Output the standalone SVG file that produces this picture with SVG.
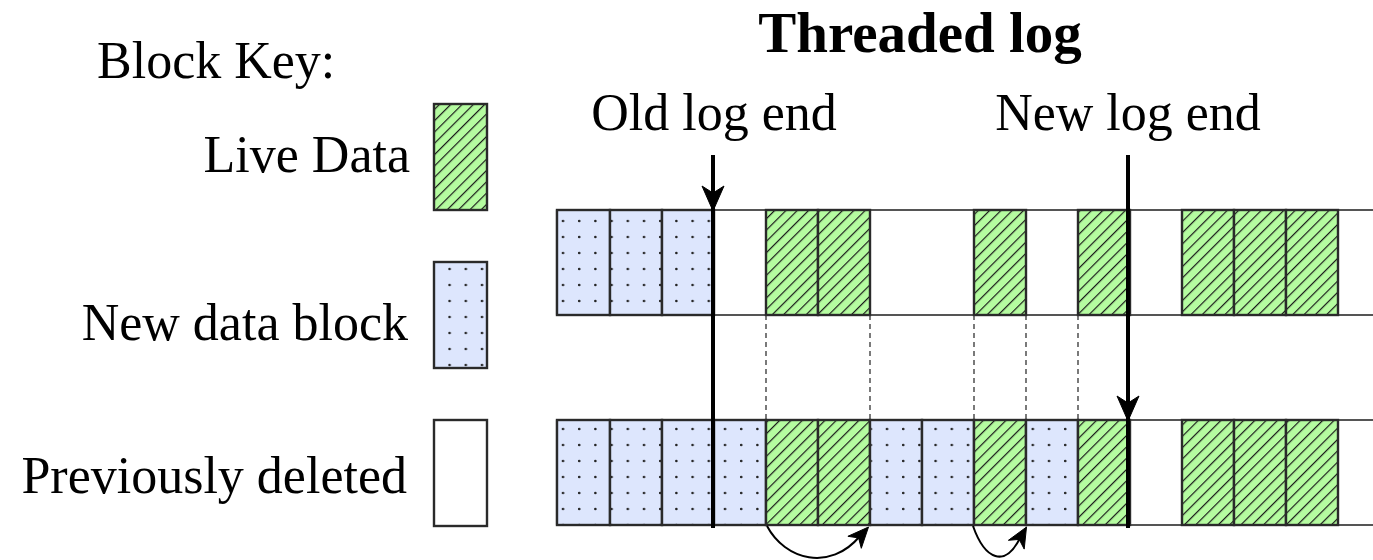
<svg xmlns="http://www.w3.org/2000/svg" width="1373" height="560" viewBox="0 0 1373 560">
<defs>
<pattern id="dots" patternUnits="userSpaceOnUse" x="557" y="213" width="16.2" height="16">
<circle cx="6" cy="8" r="1.3" fill="#222"/>
</pattern>
<pattern id="hatch" patternUnits="userSpaceOnUse" width="8" height="8" patternTransform="rotate(-45)">
<rect x="0" y="0" width="8" height="1.2" fill="#1a1a1a"/>
</pattern>
</defs>
<style>
text{font-family:"Liberation Serif","Times New Roman",serif;fill:#000}
.lbl{font-size:52px}
.title{font-size:57px;font-weight:bold}
.g{fill:#b5fca0}
.b{fill:#dde6fd}
.h{fill:url(#hatch)}
.d{fill:url(#dots)}
.bd{fill:none;stroke:#2a2a2a;stroke-width:2.4}
.rowline{stroke:#555;stroke-width:2.2;fill:none}
.dash{stroke:#333;stroke-width:1.3;stroke-dasharray:5,4;fill:none}
.ptr{stroke:#000;stroke-width:4;fill:none}
.curve{stroke:#000;stroke-width:2;fill:none}
.head{fill:#000;stroke:#000;stroke-width:1;stroke-linejoin:round}
</style>
<rect width="1373" height="560" fill="#fff"/>

<g id="title"><text class="title" x="920" y="52" text-anchor="middle">Threaded log</text></g>

<g id="key">
<text class="lbl" x="97" y="78">Block Key:</text>
<g id="key-live"><text class="lbl" x="410" y="172" text-anchor="end">Live Data</text>
<rect class="g" x="434" y="104" width="53" height="106"/><rect class="h" x="434" y="104" width="53" height="106"/><rect class="bd" x="434" y="104" width="53" height="106"/></g>
<g id="key-new"><text class="lbl" x="408" y="340" text-anchor="end">New data block</text>
<rect class="b" x="434" y="262" width="53" height="106"/><rect class="d" x="434" y="262" width="53" height="106"/><rect class="bd" x="434" y="262" width="53" height="106"/></g>
<g id="key-deleted"><text class="lbl" x="407" y="493" text-anchor="end">Previously deleted</text>
<rect class="bd" x="434" y="420" width="53" height="106" style="fill:#fff"/></g>
</g>

<g id="top-row">
<path class="rowline" d="M557,210 H1373 M557,315 H1373 M557,210 V315"/>
<g id="t1"><rect class="b" x="557" y="210" width="53" height="105"/><rect class="d" x="557" y="210" width="53" height="105"/><rect class="bd" x="557" y="210" width="53" height="105"/></g>
<g id="t2"><rect class="b" x="610" y="210" width="52" height="105"/><rect class="d" x="610" y="210" width="52" height="105"/><rect class="bd" x="610" y="210" width="52" height="105"/></g>
<g id="t3"><rect class="b" x="662" y="210" width="52" height="105"/><rect class="d" x="662" y="210" width="52" height="105"/><rect class="bd" x="662" y="210" width="52" height="105"/></g>
<g id="t5"><rect class="g" x="766" y="210" width="52" height="105"/><rect class="h" x="766" y="210" width="52" height="105"/><rect class="bd" x="766" y="210" width="52" height="105"/></g>
<g id="t6"><rect class="g" x="818" y="210" width="52" height="105"/><rect class="h" x="818" y="210" width="52" height="105"/><rect class="bd" x="818" y="210" width="52" height="105"/></g>
<g id="t9"><rect class="g" x="974" y="210" width="52" height="105"/><rect class="h" x="974" y="210" width="52" height="105"/><rect class="bd" x="974" y="210" width="52" height="105"/></g>
<g id="t11"><rect class="g" x="1078" y="210" width="52" height="105"/><rect class="h" x="1078" y="210" width="52" height="105"/><rect class="bd" x="1078" y="210" width="52" height="105"/></g>
<g id="t13"><rect class="g" x="1182" y="210" width="52" height="105"/><rect class="h" x="1182" y="210" width="52" height="105"/><rect class="bd" x="1182" y="210" width="52" height="105"/></g>
<g id="t14"><rect class="g" x="1234" y="210" width="52" height="105"/><rect class="h" x="1234" y="210" width="52" height="105"/><rect class="bd" x="1234" y="210" width="52" height="105"/></g>
<g id="t15"><rect class="g" x="1286" y="210" width="52" height="105"/><rect class="h" x="1286" y="210" width="52" height="105"/><rect class="bd" x="1286" y="210" width="52" height="105"/></g>
</g>

<g id="bottom-row">
<path class="rowline" d="M557,420 H1373 M557,525 H1373 M557,420 V525"/>
<g id="b1"><rect class="b" x="557" y="420" width="53" height="105"/><rect class="d" x="557" y="420" width="53" height="105"/><rect class="bd" x="557" y="420" width="53" height="105"/></g>
<g id="b2"><rect class="b" x="610" y="420" width="52" height="105"/><rect class="d" x="610" y="420" width="52" height="105"/><rect class="bd" x="610" y="420" width="52" height="105"/></g>
<g id="b3"><rect class="b" x="662" y="420" width="52" height="105"/><rect class="d" x="662" y="420" width="52" height="105"/><rect class="bd" x="662" y="420" width="52" height="105"/></g>
<g id="b4"><rect class="b" x="714" y="420" width="52" height="105"/><rect class="d" x="714" y="420" width="52" height="105"/><rect class="bd" x="714" y="420" width="52" height="105"/></g>
<g id="b5"><rect class="g" x="766" y="420" width="52" height="105"/><rect class="h" x="766" y="420" width="52" height="105"/><rect class="bd" x="766" y="420" width="52" height="105"/></g>
<g id="b6"><rect class="g" x="818" y="420" width="52" height="105"/><rect class="h" x="818" y="420" width="52" height="105"/><rect class="bd" x="818" y="420" width="52" height="105"/></g>
<g id="b7"><rect class="b" x="870" y="420" width="52" height="105"/><rect class="d" x="870" y="420" width="52" height="105"/><rect class="bd" x="870" y="420" width="52" height="105"/></g>
<g id="b8"><rect class="b" x="922" y="420" width="52" height="105"/><rect class="d" x="922" y="420" width="52" height="105"/><rect class="bd" x="922" y="420" width="52" height="105"/></g>
<g id="b9"><rect class="g" x="974" y="420" width="52" height="105"/><rect class="h" x="974" y="420" width="52" height="105"/><rect class="bd" x="974" y="420" width="52" height="105"/></g>
<g id="b10"><rect class="b" x="1026" y="420" width="52" height="105"/><rect class="d" x="1026" y="420" width="52" height="105"/><rect class="bd" x="1026" y="420" width="52" height="105"/></g>
<g id="b11"><rect class="g" x="1078" y="420" width="52" height="105"/><rect class="h" x="1078" y="420" width="52" height="105"/><rect class="bd" x="1078" y="420" width="52" height="105"/></g>
<g id="b13"><rect class="g" x="1182" y="420" width="52" height="105"/><rect class="h" x="1182" y="420" width="52" height="105"/><rect class="bd" x="1182" y="420" width="52" height="105"/></g>
<g id="b14"><rect class="g" x="1234" y="420" width="52" height="105"/><rect class="h" x="1234" y="420" width="52" height="105"/><rect class="bd" x="1234" y="420" width="52" height="105"/></g>
<g id="b15"><rect class="g" x="1286" y="420" width="52" height="105"/><rect class="h" x="1286" y="420" width="52" height="105"/><rect class="bd" x="1286" y="420" width="52" height="105"/></g>
</g>

<g id="old-log-end"><text class="lbl" x="714" y="130" text-anchor="middle">Old log end</text></g>
<g id="new-log-end"><text class="lbl" x="1128" y="130" text-anchor="middle">New log end</text></g>

<g id="connectors">
<path class="dash" d="M766,315 V420 M870,315 V420 M974,315 V420 M1026,315 V420 M1078,315 V420"/>
<path class="ptr" d="M713,155 V528"/>
<polygon class="head" points="713,211 702,186 713,193 724,186"/>
<path class="ptr" d="M1128,155 V528"/>
<polygon class="head" points="1128,421 1117,396 1128,403 1139,396"/>
<path class="curve" d="M767,526 C785,560 830,572 860,536"/>
<polygon class="head" points="868.5,527 861.3,548.3 858.6,537.9 847.9,536.3"/>
<path class="curve" d="M973,526 C985,560 1005,568 1020,538"/>
<polygon class="head" points="1026.5,527 1024.2,549.1 1019.2,539.4 1008.4,540.3"/>
</g>
</svg>
